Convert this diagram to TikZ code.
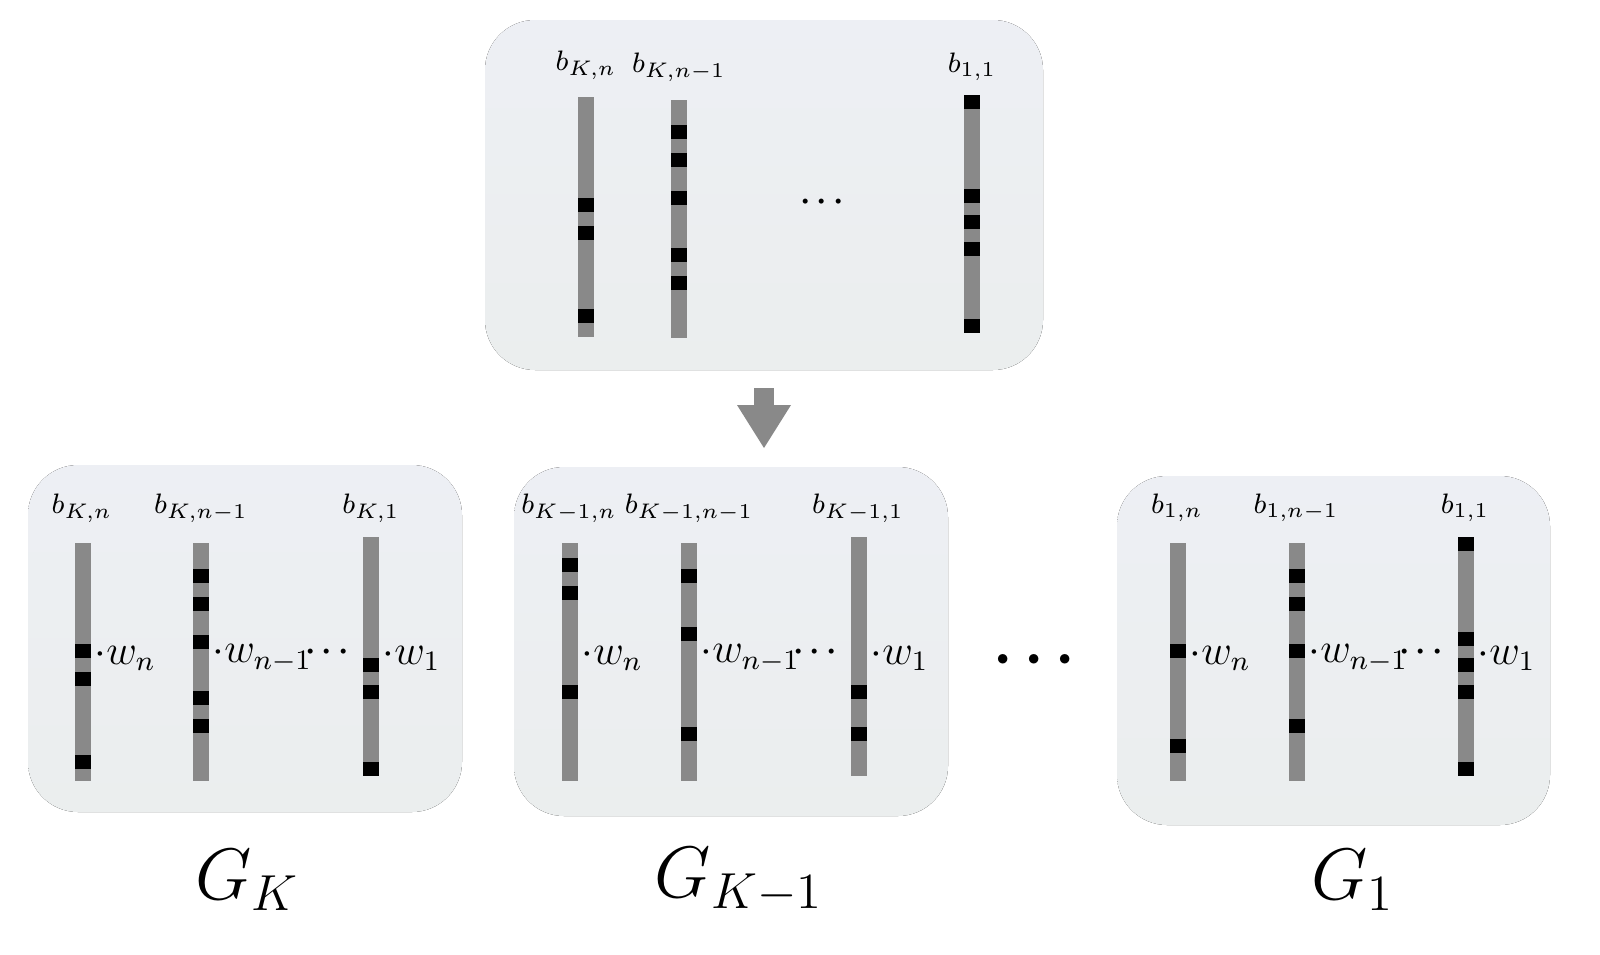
\documentclass[tikz,border=0pt]{standalone}
\usepackage{amsmath}
\definecolor{boxtop}{HTML}{EDEFF4}
\definecolor{boxbot}{HTML}{EBEEEE}
\definecolor{bargray}{HTML}{898989}
\newcommand{\mybar}[4]{%
  \fill[bargray] (#1,#2) rectangle ++(16,#3-#2);%
  \foreach \t in {#4} {\fill[black] (#1,\t) rectangle ++(16,14);}}
\begin{document}
\begin{tikzpicture}[x=0.01cm,y=-0.01cm,
  panel/.style={rounded corners=0.5cm,top color=boxtop,bottom color=boxbot,draw=none},
  lab/.style={font=\fontsize{8}{9}\selectfont,inner sep=0pt},
  wl/.style={font=\fontsize{11.5}{13}\selectfont,inner sep=0pt,anchor=west},
  dt/.style={inner sep=0pt,font=\fontsize{9}{9}\selectfont\boldmath},
  gl/.style={font=\fontsize{20}{22}\selectfont,inner sep=0pt}]
\useasboundingbox (0,0) rectangle (1600,954);
% top panel
\fill[panel] (485,20) rectangle (1043,370);
\mybar{578}{97}{337}{198,226,309}
\mybar{671}{100}{338}{125,153,191,248,276}
\mybar{964}{95}{333}{95,189,215,242,319}
\node[lab] (t1) at (586,65) {$b_{K,n}$};
\node[lab] (t2) at (679,67) {$b_{K,n-1}$};
\node[lab] (t3) at (972,67) {$b_{1,1}$};
\node[dt] (td) at (825,202) {$\cdots$};
% arrow
\fill[bargray] (754,388) rectangle (774,405);
\fill[bargray] (737,405) -- (791,405) -- (764,448) -- cycle;
% box 1
\fill[panel] (28,465) rectangle (462,812);
\mybar{75}{543}{781}{644,672,755}
\mybar{193}{543}{781}{569,597,635,691,719}
\mybar{363}{537}{776}{658,685,762}
\node[lab] (a1) at (82,508) {$b_{K,n}$};
\node[lab] (a2) at (201,508) {$b_{K,n-1}$};
\node[lab] (a3) at (371,508) {$b_{K,1}$};
\node[wl] (aw1) at (94,658) {$\cdot w_n$};
\node[wl] (aw2) at (212,658) {$\cdot w_{n-1}$};
\node[dt] (ad) at (330,652) {$\cdots$};
\node[wl] (aw3) at (382,658) {$\cdot w_1$};
\node[gl] (g1) at (247,880) {$G_K$};
% box 2
\fill[panel] (514,467) rectangle (948,816);
\mybar{562}{543}{781}{558,586,685}
\mybar{681}{543}{781}{569,627,727}
\mybar{851}{537}{776}{685,727}
\node[lab] (b1) at (569,508) {$b_{K-1,n}$};
\node[lab] (b2) at (689,508) {$b_{K-1,n-1}$};
\node[lab] (b3) at (858,508) {$b_{K-1,1}$};
\node[wl] (bw1) at (581,658) {$\cdot w_n$};
\node[wl] (bw2) at (700,658) {$\cdot w_{n-1}$};
\node[dt] (bd) at (818,652) {$\cdots$};
\node[wl] (bw3) at (870,658) {$\cdot w_1$};
\node[gl] (g2) at (739,880) {$G_{K-1}$};
% middle dots
\node[inner sep=0pt,font=\fontsize{18}{18}\selectfont\boldmath] (md) at (1040,660) {$\cdots$};
% box 3
\fill[panel] (1117,476) rectangle (1550,825);
\mybar{1170}{543}{781}{644,739}
\mybar{1289}{543}{781}{569,597,644,719}
\mybar{1458}{537}{776}{537,632,658,685,762}
\node[lab] (c1) at (1177,508) {$b_{1,n}$};
\node[lab] (c2) at (1296,508) {$b_{1,n-1}$};
\node[lab] (c3) at (1465,508) {$b_{1,1}$};
\node[wl] (cw1) at (1189,658) {$\cdot w_n$};
\node[wl] (cw2) at (1308,658) {$\cdot w_{n-1}$};
\node[dt] (cd) at (1424,652) {$\cdots$};
\node[wl] (cw3) at (1477,658) {$\cdot w_1$};
\node[gl] (g3) at (1353,880) {$G_1$};
\end{tikzpicture}
\end{document}
